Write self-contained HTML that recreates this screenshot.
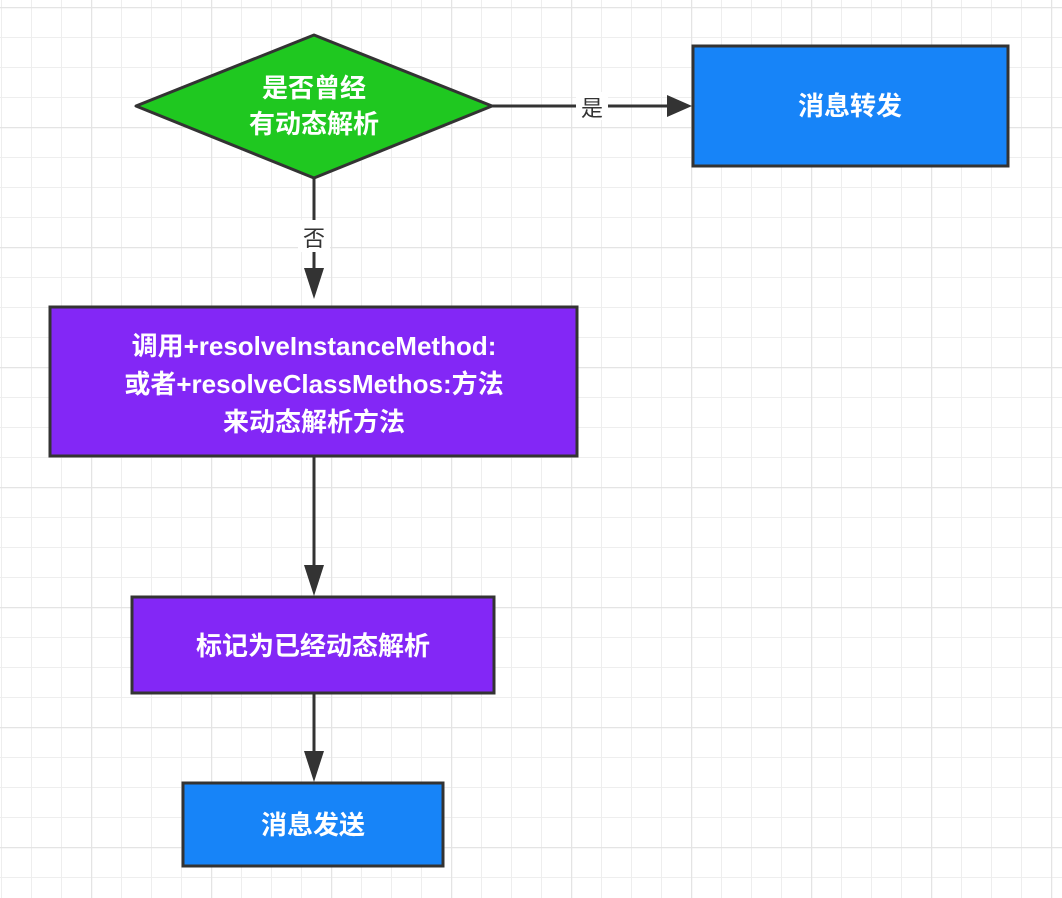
<!DOCTYPE html>
<html><head><meta charset="utf-8"><style>
html,body{margin:0;padding:0;background:#fff}
svg{display:block}
text{font-family:"Liberation Sans","Noto Sans CJK SC",sans-serif}
</style></head><body>
<svg width="1062" height="898" xmlns="http://www.w3.org/2000/svg">
<defs>
<pattern id="minor" x="1" y="7" width="30" height="30" patternUnits="userSpaceOnUse">
<path d="M0 0V30M0 0H30" stroke="#eeeeee" stroke-width="2" fill="none"/>
</pattern>
<pattern id="major" x="91" y="7" width="120" height="120" patternUnits="userSpaceOnUse">
<path d="M0 0V120M0 0H120" stroke="#e4e4e4" stroke-width="2.5" fill="none"/>
</pattern>
</defs>
<rect width="1062" height="898" fill="url(#minor)"/>
<rect width="1062" height="898" fill="url(#major)"/>

<g stroke="#333" stroke-width="3" fill="#333">
<line x1="492" y1="106" x2="670" y2="106"/>
<polygon points="692,106 667,95 667,117" stroke="none"/>
<line x1="314" y1="178" x2="314" y2="285"/>
<polygon points="314,299 304,268 324,268" stroke="none"/>
<line x1="314" y1="456" x2="314" y2="575"/>
<polygon points="314,596 304,565 324,565" stroke="none"/>
<line x1="314" y1="693" x2="314" y2="762"/>
<polygon points="314,782 304,751 324,751" stroke="none"/>
</g>
<rect x="576" y="92" width="32" height="28" fill="#fff"/>
<text x="592" y="116" font-size="22" text-anchor="middle" fill="#333">是</text>
<rect x="298" y="220" width="32" height="32" fill="#fff"/>
<text x="314" y="246" font-size="22" text-anchor="middle" fill="#333">否</text>

<polygon points="136,106 314,35 492,106 314,178" fill="#1fc820" stroke="#333" stroke-width="3" stroke-linejoin="round"/>
<text x="314" y="97" font-size="26" font-weight="bold" fill="#fff" text-anchor="middle">是否曾经</text>
<text x="314" y="133" font-size="26" font-weight="bold" fill="#fff" text-anchor="middle">有动态解析</text>

<rect x="693" y="46" width="315" height="120" fill="#1784f8" stroke="#333" stroke-width="3"/>
<text x="850" y="115" font-size="26" font-weight="bold" fill="#fff" text-anchor="middle">消息转发</text>

<rect x="50" y="307" width="527" height="149" fill="#8327f6" stroke="#333" stroke-width="3"/>
<text x="314" y="355" font-size="26" font-weight="bold" fill="#fff" text-anchor="middle">调用+resolveInstanceMethod:</text>
<text x="314" y="393" font-size="26" font-weight="bold" fill="#fff" text-anchor="middle">或者+resolveClassMethos:方法</text>
<text x="314" y="431" font-size="26" font-weight="bold" fill="#fff" text-anchor="middle">来动态解析方法</text>

<rect x="132" y="597" width="362" height="96" fill="#8327f6" stroke="#333" stroke-width="3"/>
<text x="313" y="655" font-size="26" font-weight="bold" fill="#fff" text-anchor="middle">标记为已经动态解析</text>

<rect x="183" y="783" width="260" height="83" fill="#1784f8" stroke="#333" stroke-width="3"/>
<text x="313" y="834" font-size="26" font-weight="bold" fill="#fff" text-anchor="middle">消息发送</text>
</svg>
</body></html>
